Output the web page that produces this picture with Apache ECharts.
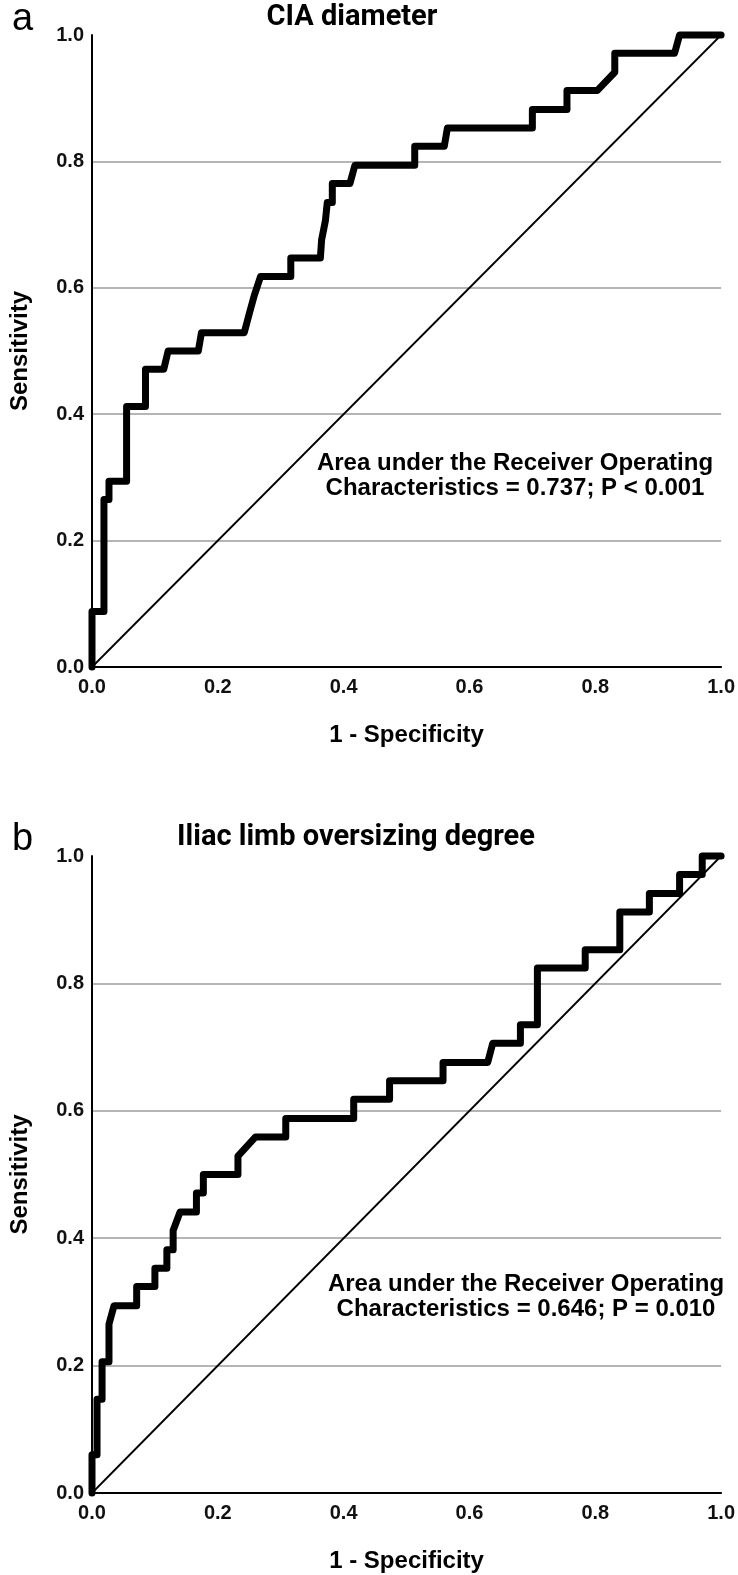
<!DOCTYPE html>
<html>
<head>
<meta charset="utf-8">
<title>ROC curves</title>
<script src="https://cdn.jsdelivr.net/npm/echarts@6.0.0/dist/echarts.min.js"></script>
<style>
  html, body { margin: 0; padding: 0; background: #fff; }
  #chart { width: 738px; height: 1575px; }
</style>
</head>
<body>
<div id="chart"></div>
<script>
// panel a: CIA diameter (1 - specificity, sensitivity)
const fprA = [0, 0, 0.019, 0.019, 0.027, 0.027, 0.055, 0.055, 0.085, 0.085,
  0.114, 0.121, 0.169, 0.174, 0.242, 0.25, 0.258, 0.268, 0.316, 0.316,
  0.363, 0.365, 0.371, 0.374, 0.382, 0.382, 0.41, 0.418, 0.513, 0.513,
  0.56, 0.565, 0.70, 0.70, 0.755, 0.755, 0.803, 0.831, 0.831, 0.926,
  0.934, 1.0]
const tprA = [0, 0.088, 0.088, 0.265, 0.265, 0.294, 0.294, 0.412, 0.412, 0.471,
  0.471, 0.5, 0.5, 0.529, 0.529, 0.559, 0.588, 0.618, 0.618, 0.647,
  0.647, 0.676, 0.706, 0.735, 0.735, 0.765, 0.765, 0.794, 0.794, 0.824,
  0.824, 0.853, 0.853, 0.882, 0.882, 0.912, 0.912, 0.941, 0.971, 0.971,
  1.0, 1.0]

// panel b: Iliac limb oversizing degree
const fprB = [0, 0, 0.008, 0.008, 0.016, 0.016, 0.027, 0.027, 0.035, 0.071,
  0.071, 0.10, 0.10, 0.119, 0.119, 0.129, 0.129, 0.14, 0.166, 0.166,
  0.177, 0.177, 0.232, 0.232, 0.26, 0.308, 0.308, 0.416, 0.416, 0.473,
  0.473, 0.558, 0.558, 0.629, 0.637, 0.681, 0.681, 0.708, 0.708, 0.784,
  0.784, 0.839, 0.839, 0.886, 0.886, 0.934, 0.934, 0.97, 0.97, 1.0]
const tprB = [0, 0.06, 0.06, 0.147, 0.147, 0.206, 0.206, 0.265, 0.294, 0.294,
  0.324, 0.324, 0.353, 0.353, 0.382, 0.382, 0.412, 0.441, 0.441, 0.471,
  0.471, 0.5, 0.5, 0.529, 0.559, 0.559, 0.588, 0.588, 0.618, 0.618,
  0.647, 0.647, 0.676, 0.676, 0.706, 0.706, 0.735, 0.735, 0.824, 0.824,
  0.853, 0.853, 0.912, 0.912, 0.941, 0.941, 0.971, 0.971, 1.0, 1.0]

// reference line
const diagX = [0, 1]
const diagY = [0, 1]

const panelTitles = ['CIA diameter', 'Iliac limb oversizing degree']
const panelLetters = ['a', 'b']
const aucTexts = [
  'Area under the Receiver Operating\nCharacteristics = 0.737; P < 0.001',
  'Area under the Receiver Operating\nCharacteristics = 0.646; P = 0.010'
]

const zip = (xs, ys) => xs.map((x, i) => [x, ys[i]])

const FONT = '"Liberation Sans", Arial, sans-serif'

const makeX = (gridIndex) => ({
  type: 'value',
  gridIndex,
  min: 0,
  max: 1,
  interval: 0.2,
  name: '1 - Specificity',
  nameLocation: 'middle',
  nameGap: 56,
  nameTextStyle: { fontFamily: FONT, fontSize: 24, fontWeight: 'bold', color: '#000' },
  axisLine: { show: true, lineStyle: { color: '#000', width: 2 } },
  axisTick: { show: false },
  axisLabel: {
    margin: 10,
    fontFamily: FONT,
    fontSize: 20,
    fontWeight: 'bold',
    color: '#111',
    showMinLabel: true,
    showMaxLabel: true,
    formatter: v => v.toFixed(1)
  },
  splitLine: { show: false }
})

const makeY = (gridIndex) => ({
  type: 'value',
  gridIndex,
  min: 0,
  max: 1,
  interval: 0.2,
  name: 'Sensitivity',
  nameLocation: 'middle',
  nameGap: 60,
  nameTextStyle: { fontFamily: FONT, fontSize: 24, fontWeight: 'bold', color: '#000' },
  axisLine: { show: true, lineStyle: { color: '#000', width: 2 } },
  axisTick: { show: false },
  axisLabel: {
    margin: 8,
    fontFamily: FONT,
    fontSize: 20,
    fontWeight: 'bold',
    color: '#111',
    formatter: v => v.toFixed(1)
  },
  splitLine: {
    show: true,
    showMinLine: false,
    showMaxLine: false,
    lineStyle: { color: '#9c9c9c', width: 1.5 }
  }
})

const rocSeries = (name, idx, xs, ys) => ({
  name,
  type: 'line',
  xAxisIndex: idx,
  yAxisIndex: idx,
  data: zip(xs, ys),
  symbol: 'none',
  clip: false,
  z: 3,
  lineStyle: { color: '#000', width: 7, join: 'round', cap: 'round' }
})

const diagSeries = (idx) => ({
  name: 'reference',
  type: 'line',
  xAxisIndex: idx,
  yAxisIndex: idx,
  data: zip(diagX, diagY),
  symbol: 'none',
  z: 2,
  lineStyle: { color: '#000', width: 1.8 }
})

const textEl = (text, x, y, font, align) => ({
  type: 'text',
  x,
  y,
  style: {
    text,
    font,
    fill: '#000',
    textAlign: align || 'center',
    textVerticalAlign: 'middle',
    lineHeight: 25
  }
})

const chart = echarts.init(document.getElementById('chart'))

chart.setOption({
  animation: false,
  backgroundColor: '#fff',
  grid: [
    { left: 88, top: 35, width: 634, height: 632 },
    { left: 88, top: 856, width: 634, height: 637 }
  ],
  xAxis: [makeX(0), makeX(1)],
  yAxis: [makeY(0), makeY(1)],
  series: [
    diagSeries(0),
    rocSeries(panelTitles[0], 0, fprA, tprA),
    diagSeries(1),
    rocSeries(panelTitles[1], 1, fprB, tprB)
  ],
  graphic: [
    textEl(panelLetters[0], 12, 20, '38px ' + FONT, 'left'),
    textEl(panelLetters[1], 12, 840, '38px ' + FONT, 'left'),
    textEl(panelTitles[0], 352, 18, 'bold 29px Roboto, ' + FONT),
    textEl(panelTitles[1], 356, 838, 'bold 29px Roboto, ' + FONT),
    textEl(aucTexts[0], 515, 476, 'bold 24px ' + FONT),
    textEl(aucTexts[1], 526, 1297, 'bold 24px ' + FONT)
  ]
})
</script>
</body>
</html>
